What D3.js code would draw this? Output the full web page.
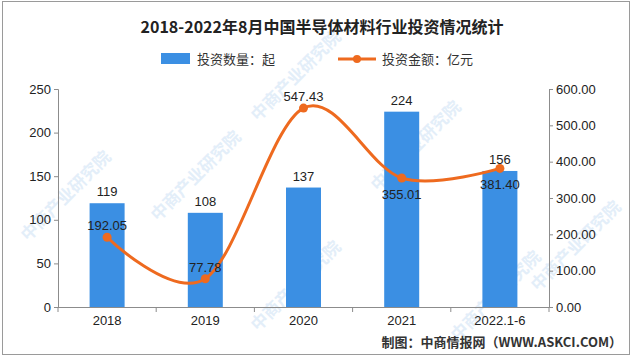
<html>
<head>
<meta charset="utf-8">
<style>
  body { margin: 0; background: #fff; }
  svg text { font-family: "Liberation Sans", "Noto Sans CJK SC", sans-serif; }
</style>
</head>
<body>
    <svg id="chart"></svg>

    <script src="https://d3js.org/d3.v7.min.js" charset="utf-8"></script>
    <script type="text/javascript">
        // data
        var years = ['2018', '2019', '2020', '2021', '2022.1-6']
        var counts = [119, 108, 137, 224, 156]          // 投资数量：起
        var amounts = [192.05, 77.78, 547.43, 355.01, 381.40]  // 投资金额：亿元
        var leftTicks = [0, 50, 100, 150, 200, 250]
        var rightTicks = [0, 100, 200, 300, 400, 500, 600]
        // whether the amount label sits above (-1) or below (1) its point
        var amountLabelSide = [-1, -1, -1, 1, 1]

        var width = 640, height = 358
        var barColor = '#3b8fe3'
        var lineColor = '#ee6a1f'
        var axisColor = '#8c8c8c'
        var cjk = '"Noto Sans CJK SC", sans-serif'

        var svg = d3.select('#chart')
                    .attr('width', width)
                    .attr('height', height)

        // frame
        svg.append('rect')
            .attr('x', 2.5).attr('y', 1.5)
            .attr('width', 627).attr('height', 353)
            .attr('fill', '#fff')
            .attr('stroke', '#9a9a9a')

        // faint watermarks, kept inside the frame
        var marks = [[70, 200], [200, 180], [420, 150], [580, 250], [300, 290], [500, 300], [300, 80]]
        marks.forEach(function(m) {
            svg.append('text')
                .attr('transform', 'translate(' + m[0] + ',' + m[1] + ') rotate(-45)')
                .attr('text-anchor', 'middle')
                .style('font-family', cjk)
                .style('font-size', '17px')
                .style('font-weight', 'bold')
                .attr('fill', '#e3eef9')
                .text('中商产业研究院')
        })

        var pLeft = 58, pRight = 549, pTop = 89, pBottom = 307

        var x = d3.scaleBand().domain(years).range([pLeft, pRight]).paddingInner(0.64).paddingOuter(0.32)
        var yL = d3.scaleLinear().domain([0, 250]).range([pBottom, pTop])
        var yR = d3.scaleLinear().domain([0, 600]).range([pBottom, pTop])

        // title
        svg.append('text')
            .attr('x', 322).attr('y', 33)
            .attr('text-anchor', 'middle')
            .style('font-family', cjk)
            .style('font-size', '16px')
            .style('font-weight', 'bold')
            .attr('fill', '#222')
            .text('2018-2022年8月中国半导体材料行业投资情况统计')

        // legend
        svg.append('rect')
            .attr('x', 161).attr('y', 53).attr('width', 29).attr('height', 11)
            .attr('fill', barColor)
        svg.append('text')
            .attr('x', 197).attr('y', 64)
            .style('font-family', cjk).style('font-size', '13px')
            .attr('fill', '#333')
            .text('投资数量：起')
        svg.append('line')
            .attr('x1', 338).attr('x2', 376).attr('y1', 59).attr('y2', 59)
            .attr('stroke', lineColor).attr('stroke-width', 3)
        svg.append('circle')
            .attr('cx', 357).attr('cy', 59).attr('r', 4)
            .attr('fill', lineColor)
        svg.append('text')
            .attr('x', 382).attr('y', 64)
            .style('font-family', cjk).style('font-size', '13px')
            .attr('fill', '#333')
            .text('投资金额：亿元')

        // axes
        var leftAxis = d3.axisLeft(yL).tickValues(leftTicks).tickSize(4).tickPadding(3)
        var gL = svg.append('g').attr('transform', 'translate(' + pLeft + ',0)').call(leftAxis)
        var rightAxis = d3.axisRight(yR).tickValues(rightTicks).tickSize(4).tickPadding(3)
                          .tickFormat(d3.format('.2f'))
        var gR = svg.append('g').attr('transform', 'translate(' + pRight + ',0)').call(rightAxis)

        var bottomAxis = d3.axisBottom(x).tickSize(0).tickPadding(9)
        var gB = svg.append('g').attr('transform', 'translate(0,' + pBottom + ')').call(bottomAxis)
        // boundary ticks between categories
        gB.selectAll('.sep')
            .data(d3.range(years.length + 1))
            .enter()
            .append('line')
            .attr('class', 'sep')
            .attr('x1', function(i) { return pLeft + i * (pRight - pLeft) / years.length })
            .attr('x2', function(i) { return pLeft + i * (pRight - pLeft) / years.length })
            .attr('y1', 0).attr('y2', 5)
            .attr('stroke', axisColor)

        ;[gL, gR, gB].forEach(function(g) {
            g.select('.domain').attr('stroke', axisColor)
            g.selectAll('.tick line').attr('stroke', axisColor)
            g.selectAll('.tick text')
                .attr('fill', '#222')
                .style('font-family', '"Liberation Sans", sans-serif')
                .style('font-size', '13px')
        })
        gB.select('.domain').attr('d', 'M' + pLeft + ',0.5H' + pRight)

        // bars
        var bw = 35
        svg.selectAll('.bar')
            .data(counts)
            .enter()
            .append('rect')
            .attr('class', 'bar')
            .attr('x', function(d, i) { return x(years[i]) + x.bandwidth() / 2 - bw / 2 })
            .attr('y', function(d) { return yL(d) })
            .attr('width', bw)
            .attr('height', function(d) { return pBottom - yL(d) })
            .attr('fill', barColor)

        svg.selectAll('.barlabel')
            .data(counts)
            .enter()
            .append('text')
            .attr('class', 'barlabel')
            .attr('x', function(d, i) { return x(years[i]) + x.bandwidth() / 2 })
            .attr('y', function(d) { return yL(d) - 7 })
            .attr('text-anchor', 'middle')
            .style('font-size', '13px')
            .attr('fill', '#222')
            .text(function(d) { return d })

        // smoothed line
        var pts = amounts.map(function(d, i) { return [x(years[i]) + x.bandwidth() / 2, yR(d)] })
        svg.append('path')
            .attr('d', d3.line().curve(d3.curveCardinal.tension(0))(pts))
            .attr('fill', 'none')
            .attr('stroke', lineColor)
            .attr('stroke-width', 3)

        svg.selectAll('.dot')
            .data(pts)
            .enter()
            .append('circle')
            .attr('class', 'dot')
            .attr('cx', function(d) { return d[0] })
            .attr('cy', function(d) { return d[1] })
            .attr('r', 4.5)
            .attr('fill', lineColor)

        svg.selectAll('.amtlabel')
            .data(amounts)
            .enter()
            .append('text')
            .attr('class', 'amtlabel')
            .attr('x', function(d, i) { return pts[i][0] })
            .attr('y', function(d, i) { return amountLabelSide[i] < 0 ? pts[i][1] - 7 : pts[i][1] + 21 })
            .attr('text-anchor', 'middle')
            .style('font-size', '13px')
            .attr('fill', '#222')
            .text(function(d) { return d3.format('.2f')(d) })

        // source
        svg.append('text')
            .attr('x', 622).attr('y', 347)
            .attr('text-anchor', 'end')
            .style('font-family', cjk)
            .style('font-size', '13px')
            .style('font-weight', 'bold')
            .attr('fill', '#333')
            .text('制图：中商情报网（WWW.ASKCI.COM）')
    </script>
</body>
</html>
